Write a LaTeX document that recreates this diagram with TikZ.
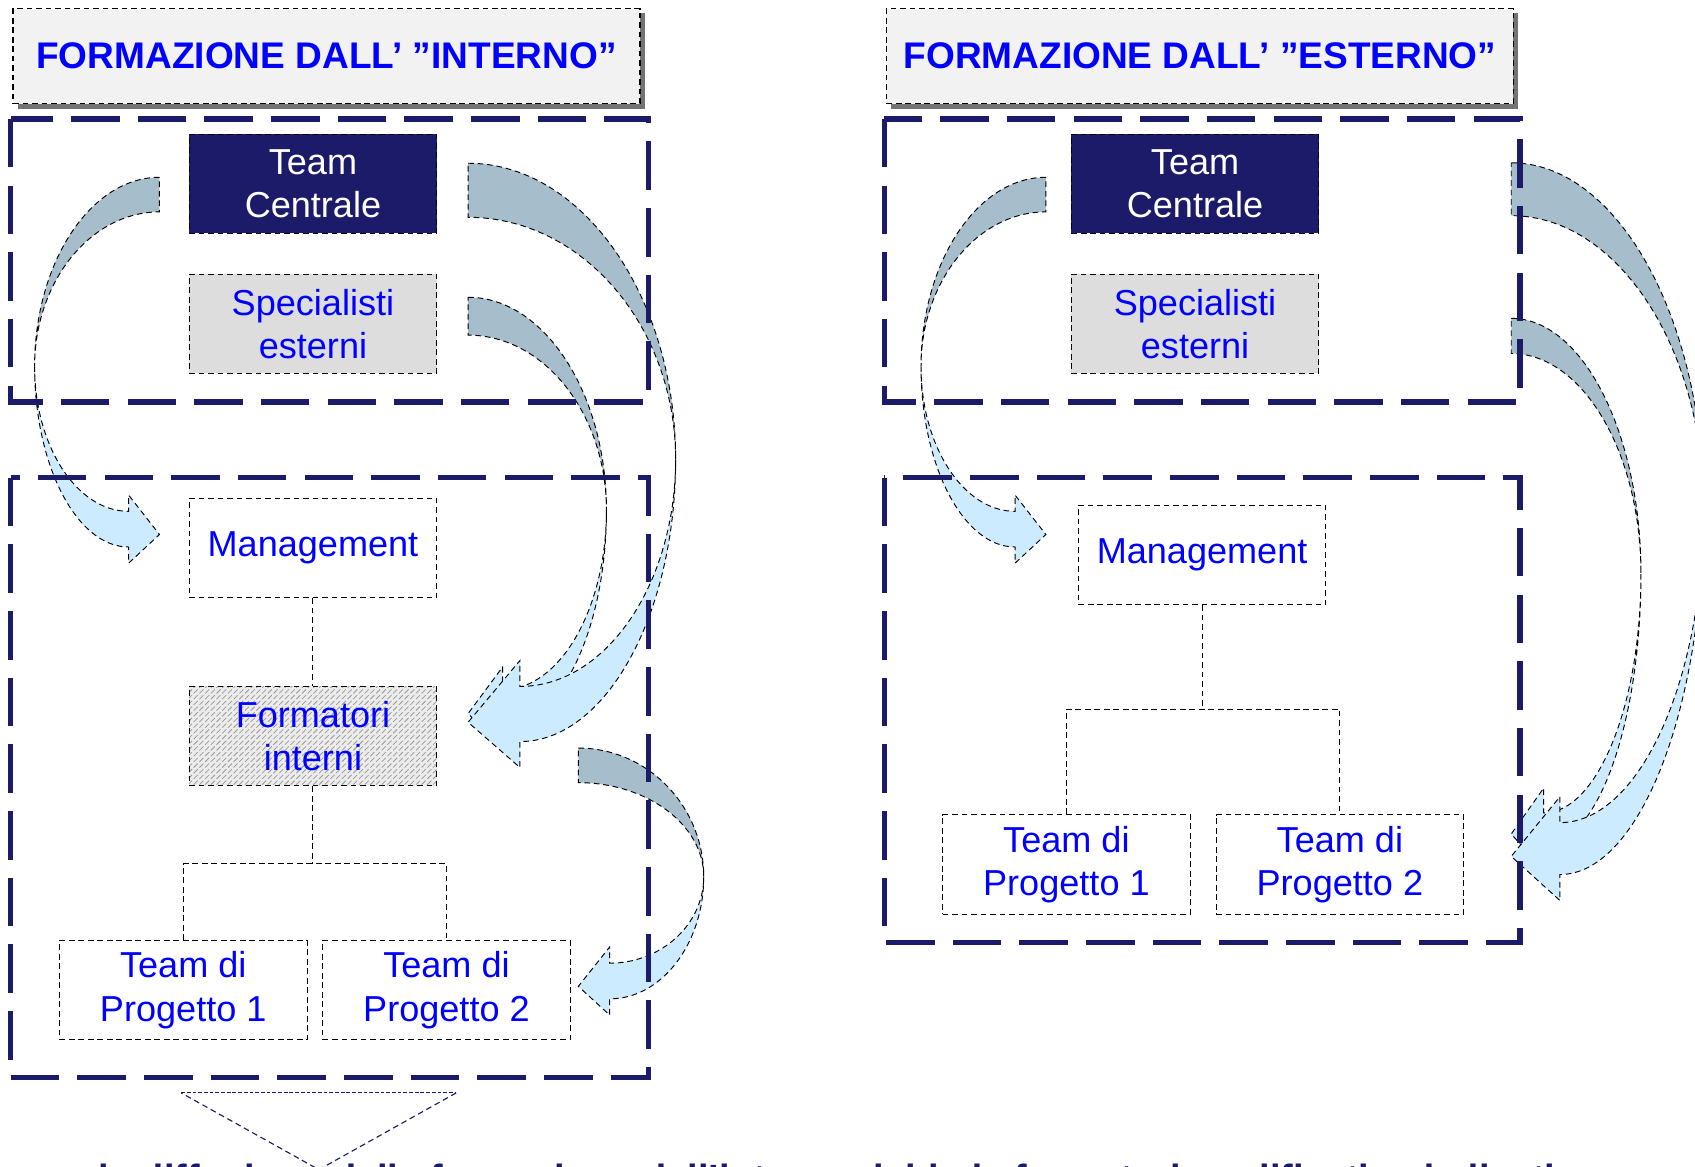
\documentclass[tikz,border=0pt]{standalone}
\usepackage{fontspec}
\setmainfont{Liberation Sans}
\usetikzlibrary{patterns,shadows}

\definecolor{navy}{RGB}{28,27,106}
\definecolor{backblue}{RGB}{166,189,203}
\definecolor{frontblue}{RGB}{204,235,255}
\definecolor{titlegray}{RGB}{242,242,242}
\definecolor{specgray}{RGB}{221,221,221}

\tikzset{
  unit/.style={draw=black, densely dashed, line width=0.5pt, fill=white,
    minimum width=4.58cm, minimum height=1.84cm, inner sep=0pt, align=center,
    text=blue, font=\fontsize{19}{22.7}\selectfont},
  central/.style={unit, fill=navy, text=white},
  specbox/.style={unit, fill=specgray},
  formbox/.style={unit, preaction={fill=gray!15}, pattern=north east lines, pattern color=gray!80},
  titlebox/.style={draw=black, densely dashed, line width=0.7pt, fill=titlegray,
    minimum width=11.6cm, minimum height=1.76cm, text=blue,
    font=\fontsize{19.5}{22}\selectfont\bfseries,
    drop shadow={shadow xshift=2.5pt, shadow yshift=-2.5pt, fill=gray!90!black, opacity=1}},
  area/.style={draw=navy, line width=2.8pt, dash pattern=on 25.5pt off 9.6pt},
  link/.style={draw=black, densely dashed, line width=0.5pt},
  backband/.style={fill=backblue, draw=black, densely dashed, line width=0.5pt},
  frontband/.style={fill=frontblue, draw=black, densely dashed, line width=0.5pt}
}

% #1 tail x, #2/#3 tail top/bottom, #4 outer x, #5 turn y,
% #6 neck x, #7/#8 neck inner/outer y, #9 barb overhang
\newcommand{\curvedblock}[9]{%
  \pgfmathsetmacro{\tipy}{(#7+#8)/2+0.15*(#8-#7)}
  \filldraw[backband] (#1,#2) .. controls ({#1+0.55*(#4-#1)},#2) and (#4,{#5-0.55*(#5-#2)}) .. (#4,#5)
    .. controls (#4,{#5-0.55*(#5-#3)}) and ({#1+0.55*(#4-#1)},#3) .. (#1,#3) -- cycle;
  \filldraw[frontband] (#4,#5) .. controls (#4,{#5+0.55*(#8-#5)}) and ({#6+0.55*(#4-#6)},#8) .. (#6,#8)
    -- (#6,{#8+#9}) -- (#1,\tipy) -- (#6,{#7-#9}) -- (#6,#7)
    .. controls ({#6+0.55*(#4-#6)},#7) and (#4,{#5+0.55*(#7-#5)}) .. (#4,#5) -- cycle;
}

\begin{document}
\begin{tikzpicture}[x=0.02cm,y=-0.02cm]
\clip (0,0) rectangle (1568,1079);

% titles
\node[titlebox] (tint) at (302,52) {FORMAZIONE DALL’ ”INTERNO”};
\node[titlebox] (text) at (1110,52) {FORMAZIONE DALL’ ”ESTERNO”};

% curved arrows, left side
\curvedblock{147.5}{164}{196}{32}{339}{119}{473}{506}{15}
\curvedblock{433}{275}{310}{561}{472}{465}{638}{672}{21}
\curvedblock{433}{151}{201}{625}{425}{481}{635}{686}{24}
\curvedblock{535}{692}{724}{651}{811}{564}{891}{924}{15}
% curved arrows, right side
\curvedblock{967.5}{164}{196}{852}{339}{939}{473}{506}{15}
\curvedblock{1398}{294.5}{327}{1518}{531}{1428}{752}{782}{23}
\curvedblock{1398}{150.6}{199.5}{1576}{470}{1443}{761}{809}{24}

% dashed areas
\draw[area] (10,110) rectangle (600,372);
\draw[area] (10,442) rectangle (600,997);
\draw[area] (818,110) rectangle (1406,372);
\draw[area] (818,442) rectangle (1406,872);

% left chart
\node[central] (ltc) at (289.5,170) {Team\\Centrale};
\node[specbox] (lse) at (289.5,299.5) {Specialisti\\esterni};
\node[unit] (lmg) at (289.5,507) {Management};
\node[formbox] (lfi) at (289.5,681) {Formatori\\interni};
\node[unit] (ltp1) at (169.5,916) {Team di\\Progetto 1};
\node[unit] (ltp2) at (413,916) {Team di\\Progetto 2};
\coordinate (lbar) at (289.5,799);
\draw[link] (lmg) -- (lfi);
\draw[link] (lfi) -- (lbar);
\draw[link] (ltp1.north) |- (lbar) -| (ltp2.north);

% right chart
\node[central] (rtc) at (1105.5,170) {Team\\Centrale};
\node[specbox] (rse) at (1105.5,299.5) {Specialisti\\esterni};
\node[unit] (rmg) at (1112,513.5) {Management};
\node[unit] (rtp1) at (986.5,799.5) {Team di\\Progetto 1};
\node[unit] (rtp2) at (1239.5,799.5) {Team di\\Progetto 2};
\coordinate (rbar) at (1112,656);
\draw[link] (rmg) -- (rbar);
\draw[link] (rtp1.north) |- (rbar) -| (rtp2.north);

% pointer and closing line (runs off the bottom edge)
\draw[navy, line width=0.6pt, dash pattern=on 2pt off 1pt] (167.6,1011) -- (422,1011);
\draw[navy, line width=0.6pt, dash pattern=on 3pt off 2pt] (422,1011) -- (295,1082) -- (167.6,1011);
\node[anchor=base, text=navy, font=\fontsize{20}{24}\selectfont\bfseries] (note) at (765,1102)
  {la diffusione della formazione dall'interno richiede formatori qualificati e dedicati};
\end{tikzpicture}
\end{document}
